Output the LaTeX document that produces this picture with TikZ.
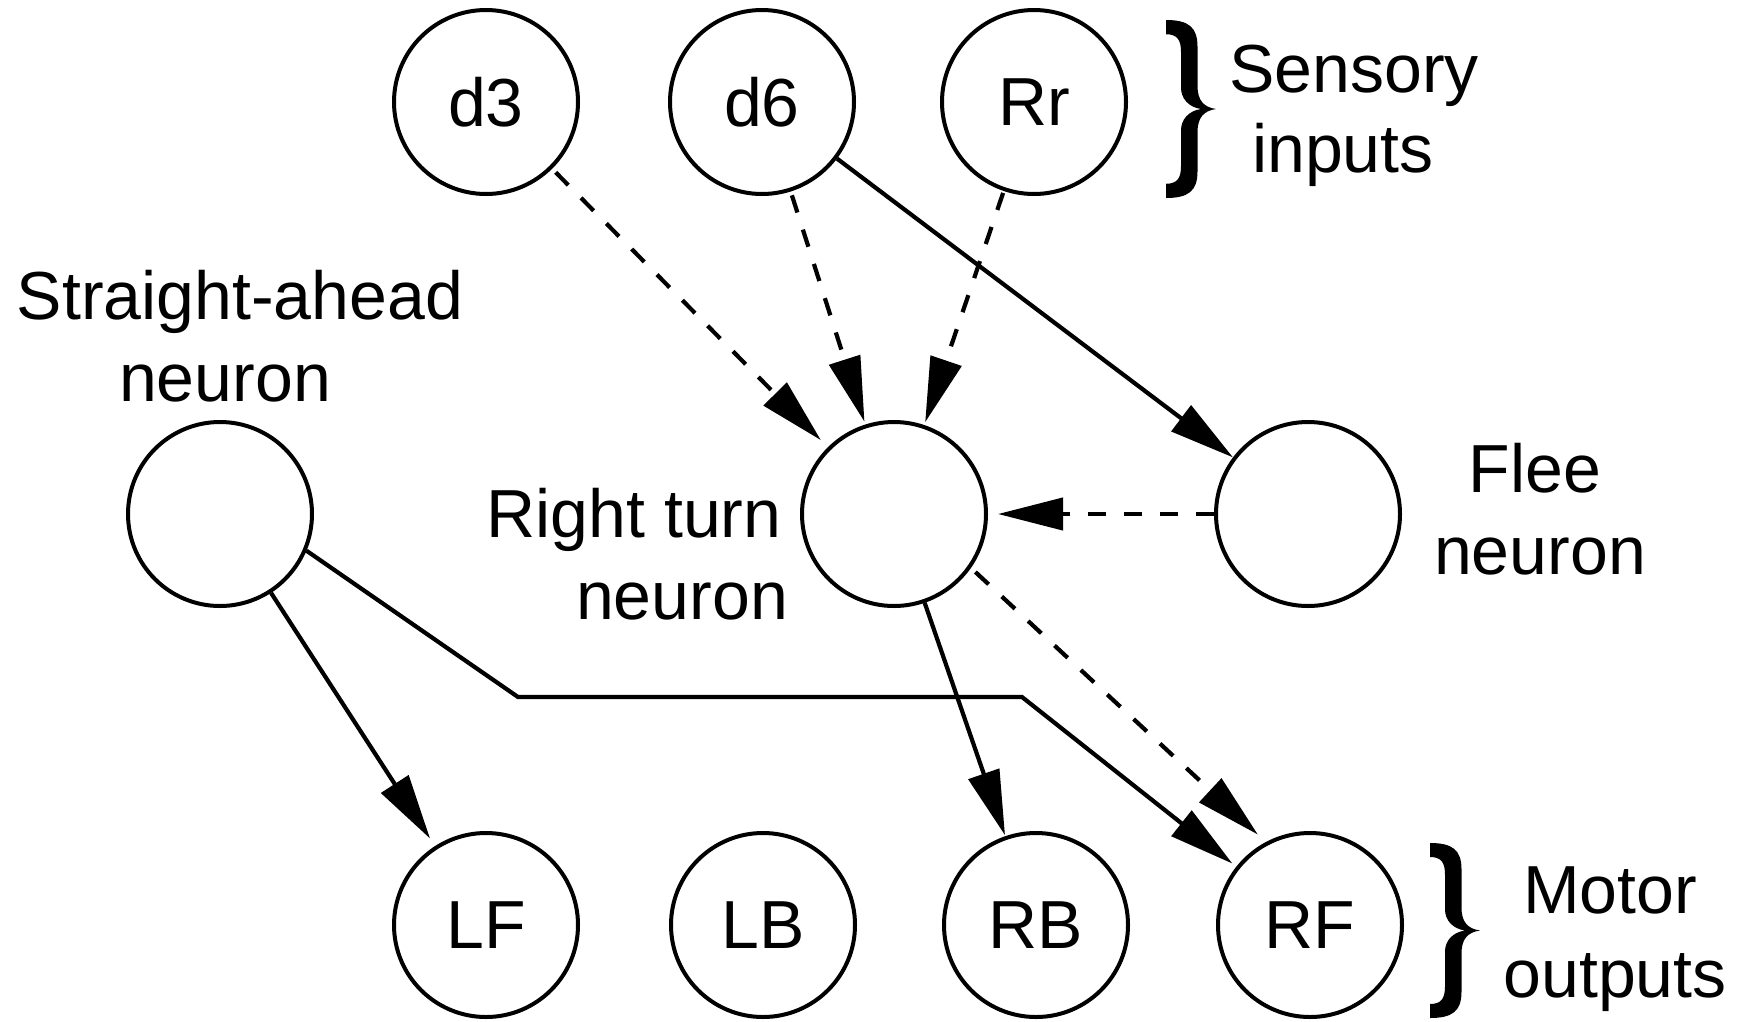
\documentclass[tikz,border=0pt]{standalone}
\usepackage{fontspec}
\setmainfont{Liberation Sans}
\usetikzlibrary{arrows.meta}
\newcommand\nrnfont{\fontsize{68pt}{82pt}\selectfont}

\begin{document}
\begin{tikzpicture}[x=1pt, y=-1pt,
  neuron/.style={circle, draw, line width=4pt, minimum size=184pt, inner sep=0pt, font=\nrnfont},
  lbl/.style={font=\nrnfont, inner sep=0pt, anchor=base},
  conn/.style={line width=4.2pt, line join=miter, -{Triangle[length=65pt,width=32pt]}},
  inhib/.style={conn, dash pattern=on 18pt off 18pt},
  curly/.pic={
    \fill (0,0) .. controls (0.45,0) and (0.63,0.04) .. (0.63,0.15)
      -- (0.63,0.37) .. controls (0.63,0.45) and (0.75,0.49) .. (1,0.5)
      .. controls (0.75,0.51) and (0.63,0.55) .. (0.63,0.63)
      -- (0.63,0.85) .. controls (0.63,0.96) and (0.45,1) .. (0,1)
      -- (0,0.92) .. controls (0.22,0.92) and (0.3,0.89) .. (0.3,0.82)
      -- (0.3,0.62) .. controls (0.3,0.56) and (0.45,0.51) .. (0.7,0.5)
      .. controls (0.45,0.49) and (0.3,0.44) .. (0.3,0.38)
      -- (0.3,0.18) .. controls (0.3,0.11) and (0.22,0.08) .. (0,0.08) -- cycle;
  },
]
\useasboundingbox (0,0) rectangle (1751,1021);

% sensory inputs
\node[neuron] (d3) at (486,102) {d3};
\node[neuron] (d6) at (762,102) {d6};
\node[neuron] (Rr) at (1034,102) {Rr};

% interneurons
\node[neuron] (SA)   at (220,514)  {};
\node[neuron] (RT)   at (894,514)  {};
\node[neuron] (Flee) at (1308,514) {};

% motor outputs
\node[neuron] (LF) at (486,925)  {LF};
\node[neuron] (LB) at (763,925)  {LB};
\node[neuron] (RB) at (1036,925) {RB};
\node[neuron] (RF) at (1310,925) {RF};

% labels
\node[lbl] (saA) at (240,319) {Straight-ahead};
\node[lbl] (saB) at (225,401) {neuron};
\node[lbl] (rtA) at (634,537) {Right turn};
\node[lbl] (rtB) at (682,619) {neuron};
\node[lbl] (flA) at (1535,492) {Flee};
\node[lbl] (flB) at (1540,574) {neuron};
\node[lbl] (snA) at (1354,92) {Sensory};
\node[lbl] (snB) at (1343,172) {inputs};
\node[lbl] (moA) at (1610,913) {Motor};
\node[lbl] (moB) at (1615,997) {outputs};

% group braces
\pic[xscale=50, yscale=178] at (1166,20) {curly};
\pic[xscale=50, yscale=175] at (1430,843) {curly};

% bends of the straight-ahead to RF connection
\coordinate (bendA) at (518,697);
\coordinate (bendB) at (1022,697);

% connections
\draw[inhib, shorten <=5pt, shorten >=10pt] (d3) -- (RT);
\draw[inhib, shorten <=4pt, shorten >=3pt]  (d6) -- (RT);
\draw[inhib, shorten <=2pt, shorten >=3pt]  (Rr) -- (RT);
\draw[conn] (d6) -- (Flee);
\draw[inhib, shorten >=10pt] (Flee) -- (RT);
\draw[conn, shorten >=1pt] (RT) -- (RB);
\draw[inhib, shorten <=6pt, shorten >=11pt] (RT.-35) -- (RF.118);
\draw[conn, shorten >=9pt] (SA) -- (LF);
\draw[conn, shorten >=5pt] (SA.-23) -- (bendA) -- (bendB) -- (RF);
\end{tikzpicture}
\end{document}
